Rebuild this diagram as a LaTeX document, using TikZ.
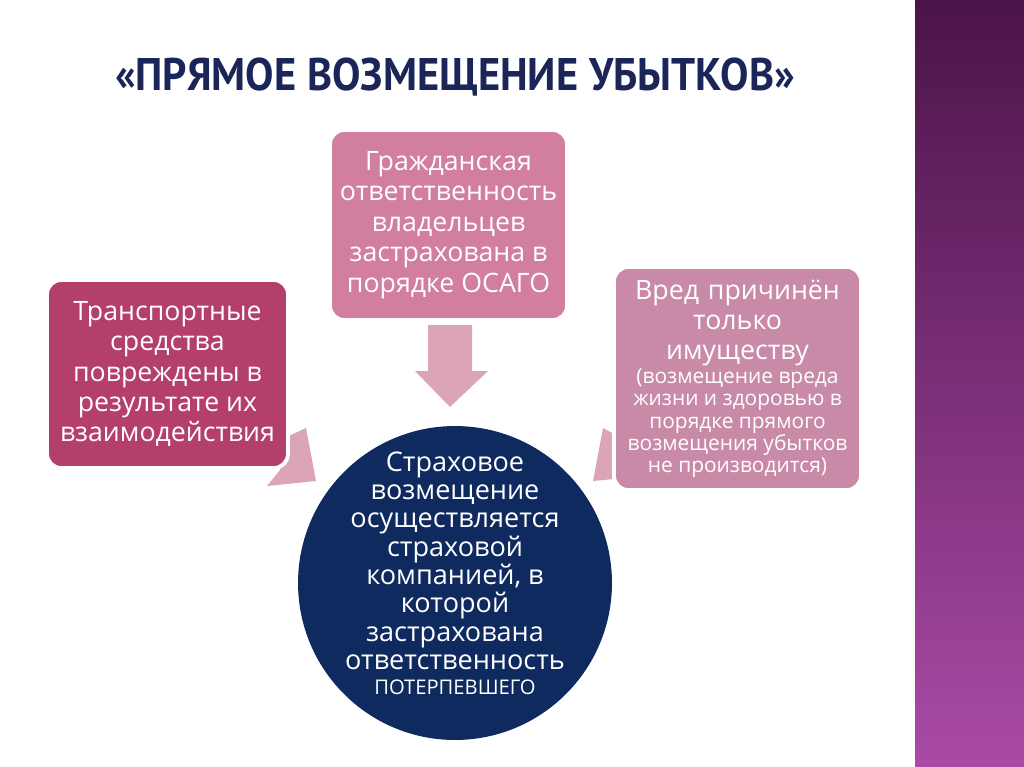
\documentclass[tikz,border=0pt]{standalone}
\usepackage{fontspec}
\setmainfont{Open Sans}
\newfontfamily\titlefont[FakeStretch=0.93]{PT Sans}
\definecolor{navy}{HTML}{0F2A5E}
\definecolor{rasp}{HTML}{B43F6A}
\definecolor{rose}{HTML}{D27E9E}
\definecolor{mauve}{HTML}{C98AA7}
\definecolor{blush}{HTML}{DCA5B7}
\definecolor{plumtop}{HTML}{4B1449}
\definecolor{plumbot}{HTML}{AA4AA6}
\definecolor{ink}{HTML}{1B2558}

\begin{document}
\begin{tikzpicture}[x=0.02cm,y=-0.02cm,
    box/.style={rectangle,rounded corners=8pt,draw=white,line width=2.2pt,
      text=white,align=center,inner sep=2pt,
      font=\fontsize{15.2}{17.3}\selectfont},
    pointer/.style={fill=blush,draw=none}]
    \useasboundingbox (0,0) rectangle (1024,767);
    % side band
    \shade[top color=plumtop,bottom color=plumbot] (915,0) rectangle (1024,767);

    \node[text=ink,font=\titlefont\bfseries\fontsize{26}{30}\selectfont] (T) at (455,77)
        {«ПРЯМОЕ ВОЗМЕЩЕНИЕ УБЫТКОВ»};

    % pointers (drawn first, the boxes cover their tails)
    \fill[pointer] (306,428) -- (280,440) -- (280,470) -- (267,486) -- (316,481) -- cycle;
    \fill[pointer] (603,428) -- (625,440) -- (625,478) -- (593,481) -- cycle;
    \fill[pointer] (428,325) -- (472,325) -- (472,371) -- (488,371) -- (450,407)
        -- (415,371) -- (428,371) -- cycle;

    \node[box,fill=rasp,minimum width=4.82cm,minimum height=3.76cm] (L) at (167.5,374)
        {Транспортные\\средства\\повреждены в\\результате их\\взаимодействия};
    \node[box,fill=mauve,minimum width=4.9cm,minimum height=4.46cm,text width=4.8cm] (R) at (737.5,378.5)
        {\centering Вред причинён\par только\par имуществу\par
        \fontsize{11.9}{12.6}\selectfont\spaceskip=0.26em\relax
        \vspace{1pt}(возмещение вреда\par жизни и здоровью в\par
        порядке прямого\par возмещения убытков\par не производится)\par};
    \node[box,fill=rose,minimum width=4.74cm,minimum height=3.8cm] (U) at (448.5,225)
        {Гражданская\\ответственность\\владельцев\\застрахована в\\порядке ОСАГО};

    \node[circle,fill=navy,minimum size=6.28cm,inner sep=0pt] (C) at (455,583) {};
    \node[text=white,align=center,inner sep=0pt,
        font=\fontsize{15.4}{16.1}\selectfont] (Ct) at ([yshift=0.2cm]C.center)
        {Страховое\\возмещение\\осуществляется\\страховой\\компанией, в\\которой\\
        застрахована\\ответственность\\[-2pt]{\fontsize{11.5}{13}\selectfont ПОТЕРПЕВШЕГО}};
\end{tikzpicture}
\end{document}
